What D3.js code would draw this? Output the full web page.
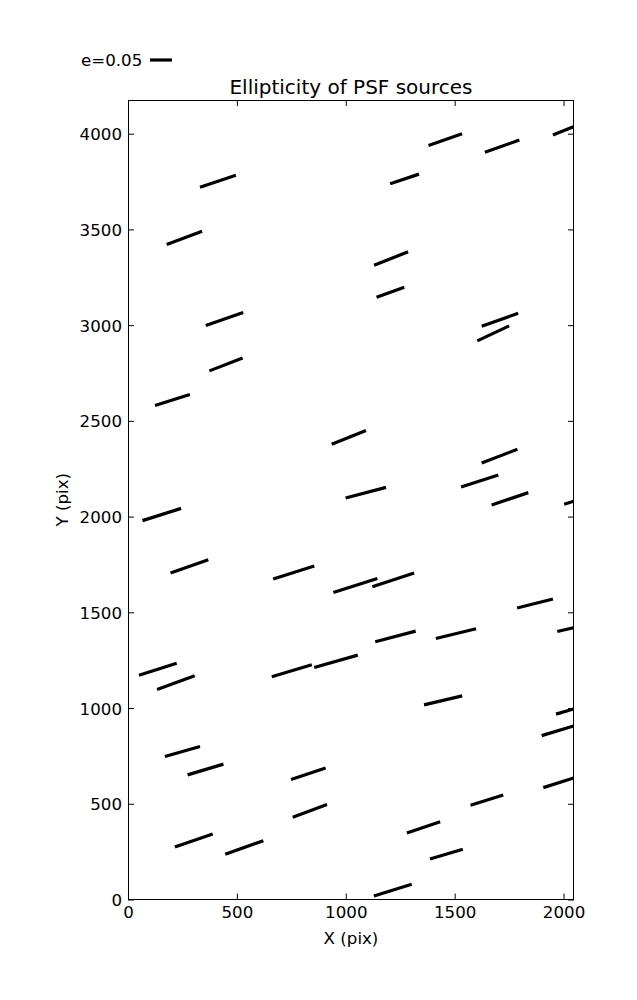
<!DOCTYPE html>
<html>
<head>
<meta charset="utf-8">
<script src="https://cdn.jsdelivr.net/npm/d3@7"></script>
<style>
  html, body { margin: 0; padding: 0; background: #fff; }
  svg text { font-family: "DejaVu Sans", sans-serif; fill: #000; }
</style>
</head>
<body>
<div id="chart"></div>
<script>
// ---- data ----
const title = "Ellipticity of PSF sources";
const xLabel = "X (pix)";
const yLabel = "Y (pix)";
const legendE = 0.05;
const legendLabel = "e=0.05";

// source positions (pix), ellipticity and position angle (deg, from +X)
const srcX = [250, 356, 302, 534, 828, 835, 1357, 1216, 1447, 1462, 1648, 1986, 1979, 2045,
              155, 282, 761, 137, 220, 752, 1092, 1044, 1218, 1228, 955, 1754, 2046, 1869, 1506, 2046,
              1708, 1677, 1706, 1615, 1205, 1014, 443, 450, 204, 413, 259, 1457, 1270, 1208, 1718, 2028];
const srcY = [773, 679, 308, 272, 657, 463, 377, 49, 1040, 237, 519, 613, 883, 995,
              2011, 1740, 1708, 1203, 1133, 1195, 2125, 1640, 1669, 1374, 1244, 2093, 2080, 1546, 1389, 1420,
              3028, 2957, 2316, 2186, 3172, 2414, 3032, 2795, 2609, 3752, 3456, 3969, 3764, 3348, 3935, 4028];
const srcE = [0.083, 0.085, 0.091, 0.092, 0.083, 0.083, 0.080, 0.090, 0.089, 0.078, 0.078, 0.082, 0.082, 0.082,
              0.092, 0.091, 0.098, 0.090, 0.091, 0.095, 0.095, 0.105, 0.100, 0.095, 0.103, 0.088, 0.045, 0.084, 0.094, 0.076,
              0.088, 0.080, 0.087, 0.089, 0.067, 0.084, 0.090, 0.081, 0.083, 0.086, 0.086, 0.081, 0.069, 0.083, 0.083, 0.082];
const srcAngle = [15.9, 16.7, 19.0, 19.6, 18.6, 20.2, 18.6, 17.2, 13.2, 16.5, 17.5, 17.7, 16.7, 16.4,
                  17.6, 19.5, 17.6, 17.7, 20.0, 16.7, 14.7, 17.7, 18.2, 14.8, 15.9, 18.6, 18.0, 14.0, 13.6, 13.5,
                  19.6, 25.3, 20.9, 17.8, 19.9, 21.8, 19.1, 21.3, 17.4, 18.4, 20.6, 19.5, 18.3, 21.5, 19.3, 21.8];

const xTicks = [0, 500, 1000, 1500, 2000];
const yTicks = [0, 500, 1000, 1500, 2000, 2500, 3000, 3500, 4000];
const xDomain = [0, 2048];
const yDomain = [0, 4176];

// ---- layout ----
const W = 637, H = 1000;
const pL = 128, pR = 574, pT = 100, pB = 899.5;
const fs = 16.67;
const pxPerE = 440; // whisker length (px) per unit ellipticity

const svg = d3.select("#chart").append("svg")
  .attr("width", W).attr("height", H);

const x = d3.scaleLinear().domain(xDomain).range([pL, pR]);
const y = d3.scaleLinear().domain(yDomain).range([pB, pT]);

svg.append("defs").append("clipPath").attr("id", "clip")
  .append("rect").attr("x", pL).attr("y", pT)
  .attr("width", pR - pL).attr("height", pB - pT);

const data = srcX.map((d, i) => ({ x: d, y: srcY[i], e: srcE[i], a: srcAngle[i] }));
const rad = a => a * Math.PI / 180;

svg.append("g").attr("clip-path", "url(#clip)")
  .selectAll("line").data(data).join("line")
  .attr("x1", d => x(d.x) - d.e * pxPerE / 2 * Math.cos(rad(d.a)))
  .attr("y1", d => y(d.y) + d.e * pxPerE / 2 * Math.sin(rad(d.a)))
  .attr("x2", d => x(d.x) + d.e * pxPerE / 2 * Math.cos(rad(d.a)))
  .attr("y2", d => y(d.y) - d.e * pxPerE / 2 * Math.sin(rad(d.a)))
  .attr("stroke", "#000").attr("stroke-width", 3.2).attr("stroke-linecap", "butt");

// frame
svg.append("rect").attr("x", pL + 0.5).attr("y", pT + 0.5)
  .attr("width", pR - pL - 1).attr("height", pB - pT - 0.5)
  .attr("fill", "none").attr("stroke", "#000").attr("stroke-width", 1);

// axes with inward ticks
const tickLen = 6;
const fmt = d3.format("d");
const gx = svg.append("g").attr("transform", `translate(0,${pB})`)
  .call(d3.axisBottom(x).tickValues(xTicks).tickFormat(fmt).tickSizeInner(-tickLen).tickSizeOuter(0));
const gxTop = svg.append("g").attr("transform", `translate(0,${pT})`)
  .call(d3.axisTop(x).tickValues(xTicks).tickSizeInner(-tickLen).tickSizeOuter(0).tickFormat(""));
const gy = svg.append("g").attr("transform", `translate(${pL},0)`)
  .call(d3.axisLeft(y).tickValues(yTicks).tickFormat(fmt).tickSizeInner(-tickLen).tickSizeOuter(0));
const gyRight = svg.append("g").attr("transform", `translate(${pR},0)`)
  .call(d3.axisRight(y).tickValues(yTicks).tickSizeInner(-tickLen).tickSizeOuter(0).tickFormat(""));

[gx, gxTop, gy, gyRight].forEach(g => {
  g.select(".domain").remove();
  g.selectAll(".tick line").attr("stroke", "#000").attr("stroke-width", 1);
  g.selectAll(".tick text").attr("font-family", "DejaVu Sans").attr("font-size", fs).attr("fill", "#000");
});
gx.selectAll(".tick text").attr("dy", null).attr("y", 918 - pB);
gy.selectAll(".tick text").attr("dy", null).attr("x", 122 - pL).attr("y", 6);

// labels
svg.append("text").attr("x", (pL + pR) / 2).attr("y", 944)
  .attr("text-anchor", "middle").attr("font-size", fs).text(xLabel);
svg.append("text").attr("transform", `translate(68,${(pT + pB) / 2}) rotate(-90)`)
  .attr("text-anchor", "middle").attr("font-size", fs).text(yLabel);
svg.append("text").attr("x", (pL + pR) / 2).attr("y", 94)
  .attr("text-anchor", "middle").attr("font-size", 20).text(title);

// legend key
svg.append("text").attr("x", 81).attr("y", 66).attr("font-size", fs).text(legendLabel);
svg.append("line").attr("x1", 150).attr("x2", 150 + legendE * pxPerE)
  .attr("y1", 60).attr("y2", 60).attr("stroke", "#000").attr("stroke-width", 3.2);
</script>
</body>
</html>
